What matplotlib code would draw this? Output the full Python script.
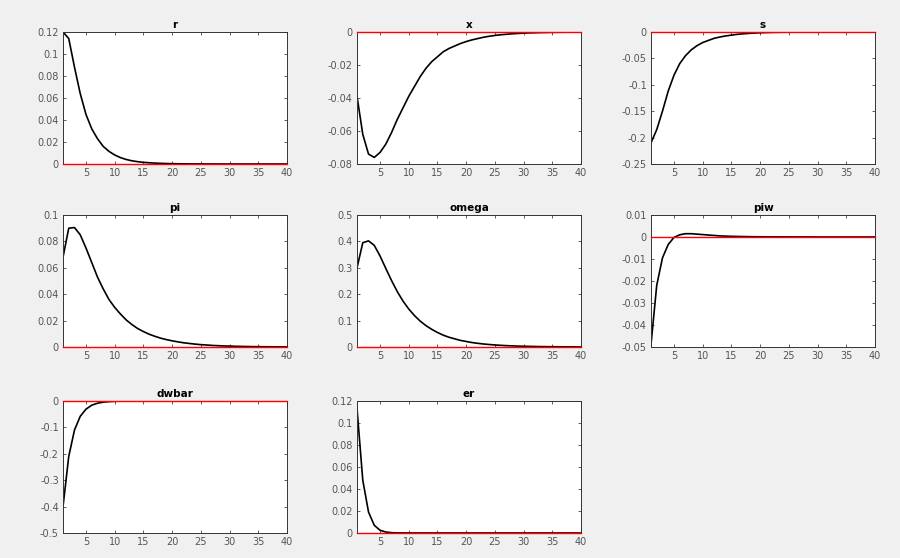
import numpy as np
import matplotlib
matplotlib.use("Agg")
import matplotlib.pyplot as plt
from matplotlib.ticker import FuncFormatter

# impulse responses, periods 1..40
periods = list(range(1, 41))

r = [0.120, 0.114, 0.088, 0.064, 0.045, 0.032, 0.023, 0.016, 0.0115, 0.0082,
     0.0058, 0.0041, 0.0029, 0.0021, 0.0015, 0.0011, 0.0008, 0.0006, 0.0004, 0.0003,
     0.0002, 0.00015, 0.0001, 0.00007, 0.00005, 0.00004, 0.00003, 0.00002, 0.00001, 0.0,
     0.0, 0.0, 0.0, 0.0, 0.0, 0.0, 0.0, 0.0, 0.0, 0.0]

x = [-0.039, -0.062, -0.074, -0.076, -0.073, -0.068, -0.061, -0.053, -0.046, -0.039,
     -0.033, -0.027, -0.022, -0.018, -0.015, -0.012, -0.010, -0.0085, -0.0070, -0.0058,
     -0.0048, -0.0040, -0.0032, -0.0026, -0.0021, -0.0017, -0.0014, -0.0011, -0.0009, -0.0007,
     -0.00055, -0.00045, -0.00035, -0.00028, -0.00022, -0.00017, -0.00013, -0.0001, -0.00008, -0.00006]

s = [-0.210, -0.185, -0.150, -0.112, -0.082, -0.060, -0.045, -0.034, -0.026, -0.020,
     -0.016, -0.012, -0.0095, -0.0075, -0.0060, -0.0045, -0.0035, -0.0027, -0.0020, -0.0015,
     -0.0011, -0.0008, -0.0006, -0.0004, -0.0003, -0.0002, -0.00015, -0.0001, -0.00007, -0.00005,
     -0.00003, -0.00002, -0.00001, 0.0, 0.0, 0.0, 0.0, 0.0, 0.0, 0.0]

pi = [0.068, 0.090, 0.0905, 0.085, 0.075, 0.064, 0.053, 0.044, 0.036, 0.030,
      0.025, 0.0205, 0.017, 0.014, 0.0117, 0.0097, 0.0081, 0.0067, 0.0056, 0.0047,
      0.0039, 0.0032, 0.0027, 0.0022, 0.0018, 0.0015, 0.0012, 0.0010, 0.0008, 0.0007,
      0.00055, 0.00045, 0.00037, 0.0003, 0.00025, 0.0002, 0.00016, 0.00013, 0.0001, 0.00008]

omega = [0.300, 0.395, 0.402, 0.385, 0.345, 0.298, 0.252, 0.210, 0.174, 0.144,
         0.119, 0.098, 0.081, 0.067, 0.055, 0.045, 0.037, 0.031, 0.025, 0.021,
         0.017, 0.014, 0.0115, 0.0095, 0.0078, 0.0064, 0.0052, 0.0043, 0.0035, 0.0029,
         0.0024, 0.0019, 0.0016, 0.0013, 0.0011, 0.0009, 0.0007, 0.0006, 0.0005, 0.0004]

piw = [-0.049, -0.022, -0.0095, -0.0034, -0.0002, 0.0010, 0.0015, 0.0015, 0.0013, 0.0011,
       0.0009, 0.0007, 0.0005, 0.0004, 0.0003, 0.00025, 0.0002, 0.00015, 0.00012, 0.0001,
       0.00008, 0.00006, 0.00005, 0.00004, 0.00003, 0.00002, 0.00002, 0.00001, 0.00001, 0.0,
       0.0, 0.0, 0.0, 0.0, 0.0, 0.0, 0.0, 0.0, 0.0, 0.0]

dwbar = [-0.400, -0.210, -0.110, -0.058, -0.031, -0.016, -0.0085, -0.0045, -0.0024, -0.0012,
         -0.0006, -0.0003, -0.00015, -0.00008, -0.00004, -0.00002, -0.00001, 0.0, 0.0, 0.0,
         0.0, 0.0, 0.0, 0.0, 0.0, 0.0, 0.0, 0.0, 0.0, 0.0,
         0.0, 0.0, 0.0, 0.0, 0.0, 0.0, 0.0, 0.0, 0.0, 0.0]

er = [0.113, 0.048, 0.019, 0.007, 0.0025, 0.0009, 0.0003, 0.0001, 0.00004, 0.00001,
      0.0, 0.0, 0.0, 0.0, 0.0, 0.0, 0.0, 0.0, 0.0, 0.0,
      0.0, 0.0, 0.0, 0.0, 0.0, 0.0, 0.0, 0.0, 0.0, 0.0,
      0.0, 0.0, 0.0, 0.0, 0.0, 0.0, 0.0, 0.0, 0.0, 0.0]

names = ["r", "x", "s", "pi", "omega", "piw", "dwbar", "er"]
series = [r, x, s, pi, omega, piw, dwbar, er]
ylims = [(0, 0.12), (-0.08, 0), (-0.25, 0), (0, 0.1), (0, 0.5), (-0.05, 0.01), (-0.5, 0), (0, 0.12)]
ysteps = [0.02, 0.02, 0.05, 0.02, 0.1, 0.01, 0.1, 0.02]
xticks = [5, 10, 15, 20, 25, 30, 35, 40]

# axes boxes in figure fractions (left, bottom, width, height)
lefts = [0.070, 0.3967, 0.7233]
bottoms = [0.7061, 0.3781, 0.0448]
w, h = 0.249, 0.2366


def tick_fmt(v, p):
    v = round(v, 4)
    if abs(v) < 1e-9:
        return "0"
    return "%g" % v


fig = plt.figure(figsize=(9, 5.58), dpi=100)
fig.patch.set_facecolor("#f0f0f0")

for i, (name, y) in enumerate(zip(names, series)):
    row, col = divmod(i, 3)
    ax = fig.add_axes([lefts[col], bottoms[row], w, h])
    ax.set_facecolor("white")
    ax.plot(periods, y, color="black", lw=1.2, zorder=2)
    ax.plot([1, 40], [0, 0], color="#ff0000", lw=1.0, zorder=3, clip_on=False)
    lo, hi = ylims[i]
    ax.set_xlim(1, 40)
    ax.set_ylim(lo, hi)
    ax.set_xticks(xticks)
    ax.set_yticks(np.linspace(lo, hi, int(round((hi - lo) / ysteps[i])) + 1))
    ax.yaxis.set_major_formatter(FuncFormatter(tick_fmt))
    ax.tick_params(direction="in", length=2.5, width=0.6, labelsize=7,
                   labelcolor="#555555", color="#444444", top=True, right=True, pad=3)
    for sp in ax.spines.values():
        sp.set_linewidth(0.7)
        sp.set_color("#333333")
    ax.set_title(name, fontsize=7.5, fontweight="bold", pad=3)

fig.savefig("out.png", dpi=100, facecolor=fig.get_facecolor())
